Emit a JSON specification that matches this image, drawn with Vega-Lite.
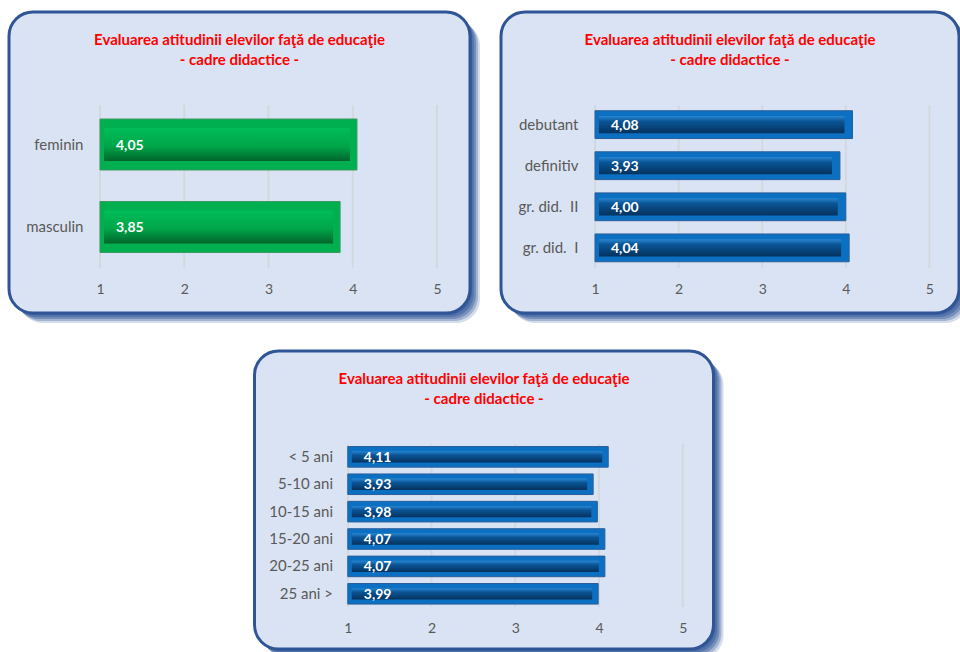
{
  "$schema": "https://vega.github.io/schema/vega-lite/v6.json",
  "background": "white",
  "padding": {"left": 7, "top": 10, "right": 0, "bottom": 0},
  "config": {
    "locale": {"number": {"decimal": ",", "thousands": ".", "grouping": [3], "currency": ["", " lei"]}},
    "font": "Lato",
    "view": {"fill": null, "stroke": null},
    "axis": {"labelFont": "Lato", "labelColor": "#595959", "grid": false, "ticks": false, "domain": false, "title": null},
    "title": {"font": "Lato", "fontSize": 15, "fontWeight": "bold", "color": "#FF0000", "anchor": "middle", "lineHeight": 20, "offset": -57}
  },
  "datasets": {
    "grid": [{"v": 1}, {"v": 2}, {"v": 3}, {"v": 4}, {"v": 5}],
    "gen": [{"cat": "feminin", "val": 4.05}, {"cat": "masculin", "val": 3.85}],
    "grad": [{"cat": "debutant", "val": 4.08}, {"cat": "definitiv", "val": 3.93}, {"cat": "gr. did.\u00a0\u00a0II", "val": 4.00}, {"cat": "gr. did.\u00a0\u00a0I", "val": 4.04}],
    "vech": [{"cat": "< 5 ani", "val": 4.11}, {"cat": "5-10 ani", "val": 3.93}, {"cat": "10-15 ani", "val": 3.98}, {"cat": "15-20 ani", "val": 4.07}, {"cat": "20-25 ani", "val": 4.07}, {"cat": "25 ani >", "val": 3.99}]
  },
  "spacing": 26,
  "center": true,
  "vconcat": [
    {
      "spacing": 19,
      "hconcat": [
        {
          "width": 461, "height": 301,
          "title": {"text": ["Evaluarea atitudinii elevilor faţă de educaţie", "- cadre didactice -"]},
          "resolve": {"scale": {"y": "independent"}},
          "layer": [
            {
              "data": {"name": "grid"},
              "transform": [{"aggregate": [{"op": "count", "as": "n"}]}],
              "encoding": {
                "x": {"datum": -0.0801, "type": "quantitative", "scale": {"domain": [-0.0801, 5.3917], "zero": false, "nice": false}, "axis": {"values": [1, 2, 3, 4, 5], "format": "d", "orient": "bottom", "offset": -45, "labelPadding": 14, "labelFontSize": 14, "zindex": 1}},
                "x2": {"datum": 5.3917},
                "y": {"datum": 1.5706, "type": "quantitative", "scale": {"domain": [-0.2761, 1.5706], "zero": false, "nice": false}, "axis": null},
                "y2": {"datum": -0.2761}
              },
              "layer": [
                {"mark": {"type": "rect", "cornerRadius": 24, "color": "#2F5597", "opacity": 0.5, "xOffset": 2, "x2Offset": 2, "yOffset": 2, "y2Offset": 2}},
                {"mark": {"type": "rect", "cornerRadius": 24, "color": "#2F5597", "opacity": 0.45, "xOffset": 4, "x2Offset": 4, "yOffset": 4, "y2Offset": 4}},
                {"mark": {"type": "rect", "cornerRadius": 24, "color": "#2F5597", "opacity": 0.4, "xOffset": 6, "x2Offset": 6, "yOffset": 6, "y2Offset": 6}},
                {"mark": {"type": "rect", "cornerRadius": 24, "color": "#2F5597", "opacity": 0.3, "xOffset": 8, "x2Offset": 8, "yOffset": 8, "y2Offset": 8}},
                {"mark": {"type": "rect", "cornerRadius": 24, "color": "#2F5597", "opacity": 0.2, "xOffset": 10, "x2Offset": 10, "yOffset": 10, "y2Offset": 10}},
                {"mark": {"type": "rect", "cornerRadius": 24, "fill": "#DAE3F3", "stroke": "#2F5597", "strokeWidth": 3}}
              ]
            },
            {
              "data": {"name": "grid"},
              "mark": {"type": "rule", "color": "#D3D8DF", "strokeWidth": 2},
              "encoding": {
                "x": {"field": "v", "type": "quantitative", "scale": {"domain": [-0.0801, 5.3917], "zero": false, "nice": false}, "axis": {"values": [1, 2, 3, 4, 5], "format": "d", "orient": "bottom", "offset": -45, "labelPadding": 14, "labelFontSize": 14, "zindex": 1}},
                "y": {"datum": 1, "type": "quantitative", "scale": {"domain": [-0.2761, 1.5706], "zero": false, "nice": false}, "axis": null},
                "y2": {"datum": 0}
              }
            },
            {
              "data": {"name": "gen"},
              "encoding": {
                "y": {"field": "cat", "type": "nominal", "sort": null, "scale": {"range": [91.25, 256.25], "paddingInner": 0.382, "paddingOuter": 0.191}, "axis": {"orient": "left", "offset": -91, "labelPadding": 17, "labelFontSize": 15, "zindex": 1}},
                "x": {"field": "val", "type": "quantitative", "scale": {"domain": [-0.0801, 5.3917], "zero": false, "nice": false}, "axis": {"values": [1, 2, 3, 4, 5], "format": "d", "orient": "bottom", "offset": -45, "labelPadding": 14, "labelFontSize": 14, "zindex": 1}}
              },
              "layer": [
                {"mark": {"type": "bar", "color": "#00B050", "stroke": "#3C9A60", "strokeWidth": 1}, "encoding": {"x2": {"datum": 1}}},
                {"mark": {"type": "bar", "height": {"band": 0.65}, "xOffset": -7, "x2Offset": 4, "color": {"gradient": "linear", "x1": 0, "y1": 0, "x2": 0, "y2": 1, "stops": [{"offset": 0, "color": "#00BD58"}, {"offset": 0.55, "color": "#00A64A"}, {"offset": 1, "color": "#00652C"}]}}, "encoding": {"x2": {"datum": 1}}},
                {"mark": {"type": "text", "align": "left", "baseline": "middle", "dx": 16, "dy": 1, "color": "white", "fontWeight": "bold", "fontSize": 14}, "encoding": {"x": {"datum": 1}, "text": {"field": "val", "type": "quantitative", "format": ".2f"}}}
              ]
            }
          ]
        },
        {
          "width": 458, "height": 301,
          "title": {"text": ["Evaluarea atitudinii elevilor faţă de educaţie", "- cadre didactice -"]},
          "resolve": {"scale": {"y": "independent"}},
          "layer": [
            {
              "data": {"name": "grid"},
              "transform": [{"aggregate": [{"op": "count", "as": "n"}]}],
              "encoding": {
                "x": {"datum": -0.1244, "type": "quantitative", "scale": {"domain": [-0.1244, 5.354], "zero": false, "nice": false}, "axis": {"values": [1, 2, 3, 4, 5], "format": "d", "orient": "bottom", "offset": -45, "labelPadding": 14, "labelFontSize": 14, "zindex": 1}},
                "x2": {"datum": 5.354},
                "y": {"datum": 1.5706, "type": "quantitative", "scale": {"domain": [-0.2761, 1.5706], "zero": false, "nice": false}, "axis": null},
                "y2": {"datum": -0.2761}
              },
              "layer": [
                {"mark": {"type": "rect", "cornerRadius": 24, "color": "#2F5597", "opacity": 0.5, "xOffset": 2, "x2Offset": 2, "yOffset": 2, "y2Offset": 2}},
                {"mark": {"type": "rect", "cornerRadius": 24, "color": "#2F5597", "opacity": 0.45, "xOffset": 4, "x2Offset": 4, "yOffset": 4, "y2Offset": 4}},
                {"mark": {"type": "rect", "cornerRadius": 24, "color": "#2F5597", "opacity": 0.4, "xOffset": 6, "x2Offset": 6, "yOffset": 6, "y2Offset": 6}},
                {"mark": {"type": "rect", "cornerRadius": 24, "color": "#2F5597", "opacity": 0.3, "xOffset": 8, "x2Offset": 8, "yOffset": 8, "y2Offset": 8}},
                {"mark": {"type": "rect", "cornerRadius": 24, "color": "#2F5597", "opacity": 0.2, "xOffset": 10, "x2Offset": 10, "yOffset": 10, "y2Offset": 10}},
                {"mark": {"type": "rect", "cornerRadius": 24, "fill": "#DAE3F3", "stroke": "#2F5597", "strokeWidth": 3}}
              ]
            },
            {
              "data": {"name": "grid"},
              "mark": {"type": "rule", "color": "#D3D8DF", "strokeWidth": 2},
              "encoding": {
                "x": {"field": "v", "type": "quantitative", "scale": {"domain": [-0.1244, 5.354], "zero": false, "nice": false}, "axis": {"values": [1, 2, 3, 4, 5], "format": "d", "orient": "bottom", "offset": -45, "labelPadding": 14, "labelFontSize": 14, "zindex": 1}},
                "y": {"datum": 1, "type": "quantitative", "scale": {"domain": [-0.2761, 1.5706], "zero": false, "nice": false}, "axis": null},
                "y2": {"datum": 0}
              }
            },
            {
              "data": {"name": "grad"},
              "encoding": {
                "y": {"field": "cat", "type": "nominal", "sort": null, "scale": {"range": [92.1, 256.4], "paddingInner": 0.323, "paddingOuter": 0.1615}, "axis": {"orient": "left", "offset": -94, "labelPadding": 17, "labelFontSize": 15, "zindex": 1}},
                "x": {"field": "val", "type": "quantitative", "scale": {"domain": [-0.1244, 5.354], "zero": false, "nice": false}, "axis": {"values": [1, 2, 3, 4, 5], "format": "d", "orient": "bottom", "offset": -45, "labelPadding": 14, "labelFontSize": 14, "zindex": 1}}
              },
              "layer": [
                {"mark": {"type": "bar", "color": "#0B70C2", "stroke": "#2A5E9A", "strokeWidth": 1}, "encoding": {"x2": {"datum": 1}}},
                {"mark": {"type": "bar", "height": {"band": 0.62}, "xOffset": -8, "x2Offset": 4, "color": {"gradient": "linear", "x1": 0, "y1": 0, "x2": 0, "y2": 1, "stops": [{"offset": 0, "color": "#2A86D0"}, {"offset": 0.3, "color": "#0A5596"}, {"offset": 1, "color": "#04325E"}]}}, "encoding": {"x2": {"datum": 1}}},
                {"mark": {"type": "text", "align": "left", "baseline": "middle", "dx": 16, "dy": 1, "color": "white", "fontWeight": "bold", "fontSize": 14}, "encoding": {"x": {"datum": 1}, "text": {"field": "val", "type": "quantitative", "format": ".2f"}}}
              ]
            }
          ]
        }
      ]
    },
    {
      "width": 459, "height": 298,
      "title": {"text": ["Evaluarea atitudinii elevilor faţă de educaţie", "- cadre didactice -"]},
      "resolve": {"scale": {"y": "independent"}},
      "layer": [
        {
          "data": {"name": "grid"},
          "transform": [{"aggregate": [{"op": "count", "as": "n"}]}],
          "encoding": {
            "x": {"datum": -0.114, "type": "quantitative", "scale": {"domain": [-0.114, 5.367], "zero": false, "nice": false}, "axis": {"values": [1, 2, 3, 4, 5], "format": "d", "orient": "bottom", "offset": -42, "labelPadding": 14, "labelFontSize": 14, "zindex": 1}},
            "x2": {"datum": 5.367},
            "y": {"datum": 1.5706, "type": "quantitative", "scale": {"domain": [-0.2577, 1.5706], "zero": false, "nice": false}, "axis": null},
            "y2": {"datum": -0.2577}
          },
          "layer": [
            {"mark": {"type": "rect", "cornerRadius": 24, "color": "#2F5597", "opacity": 0.5, "xOffset": 2, "x2Offset": 2, "yOffset": 2, "y2Offset": 2}},
            {"mark": {"type": "rect", "cornerRadius": 24, "color": "#2F5597", "opacity": 0.45, "xOffset": 4, "x2Offset": 4, "yOffset": 4, "y2Offset": 4}},
            {"mark": {"type": "rect", "cornerRadius": 24, "color": "#2F5597", "opacity": 0.4, "xOffset": 6, "x2Offset": 6, "yOffset": 6, "y2Offset": 6}},
            {"mark": {"type": "rect", "cornerRadius": 24, "color": "#2F5597", "opacity": 0.3, "xOffset": 8, "x2Offset": 8, "yOffset": 8, "y2Offset": 8}},
            {"mark": {"type": "rect", "cornerRadius": 24, "color": "#2F5597", "opacity": 0.2, "xOffset": 10, "x2Offset": 10, "yOffset": 10, "y2Offset": 10}},
            {"mark": {"type": "rect", "cornerRadius": 24, "fill": "#DAE3F3", "stroke": "#2F5597", "strokeWidth": 3}}
          ]
        },
        {
          "data": {"name": "grid"},
          "mark": {"type": "rule", "color": "#D3D8DF", "strokeWidth": 2},
          "encoding": {
            "x": {"field": "v", "type": "quantitative", "scale": {"domain": [-0.114, 5.367], "zero": false, "nice": false}, "axis": {"values": [1, 2, 3, 4, 5], "format": "d", "orient": "bottom", "offset": -42, "labelPadding": 14, "labelFontSize": 14, "zindex": 1}},
            "y": {"datum": 1, "type": "quantitative", "scale": {"domain": [-0.2577, 1.5706], "zero": false, "nice": false}, "axis": null},
            "y2": {"datum": 0}
          }
        },
        {
          "data": {"name": "vech"},
          "encoding": {
            "y": {"field": "cat", "type": "nominal", "sort": null, "scale": {"range": [92.15, 256.5], "paddingInner": 0.248, "paddingOuter": 0.124}, "axis": {"orient": "left", "offset": -93, "labelPadding": 15, "labelFontSize": 15, "zindex": 1}},
            "x": {"field": "val", "type": "quantitative", "scale": {"domain": [-0.114, 5.367], "zero": false, "nice": false}, "axis": {"values": [1, 2, 3, 4, 5], "format": "d", "orient": "bottom", "offset": -42, "labelPadding": 14, "labelFontSize": 14, "zindex": 1}}
          },
          "layer": [
            {"mark": {"type": "bar", "color": "#0B70C2", "stroke": "#2A5E9A", "strokeWidth": 1}, "encoding": {"x2": {"datum": 1}}},
            {"mark": {"type": "bar", "height": {"band": 0.55}, "xOffset": -6, "x2Offset": 4, "color": {"gradient": "linear", "x1": 0, "y1": 0, "x2": 0, "y2": 1, "stops": [{"offset": 0, "color": "#2A86D0"}, {"offset": 0.35, "color": "#0A5596"}, {"offset": 1, "color": "#04325E"}]}}, "encoding": {"x2": {"datum": 1}}},
            {"mark": {"type": "text", "align": "left", "baseline": "middle", "dx": 16, "dy": 1, "color": "white", "fontWeight": "bold", "fontSize": 14}, "encoding": {"x": {"datum": 1}, "text": {"field": "val", "type": "quantitative", "format": ".2f"}}}
          ]
        }
      ]
    }
  ]
}
